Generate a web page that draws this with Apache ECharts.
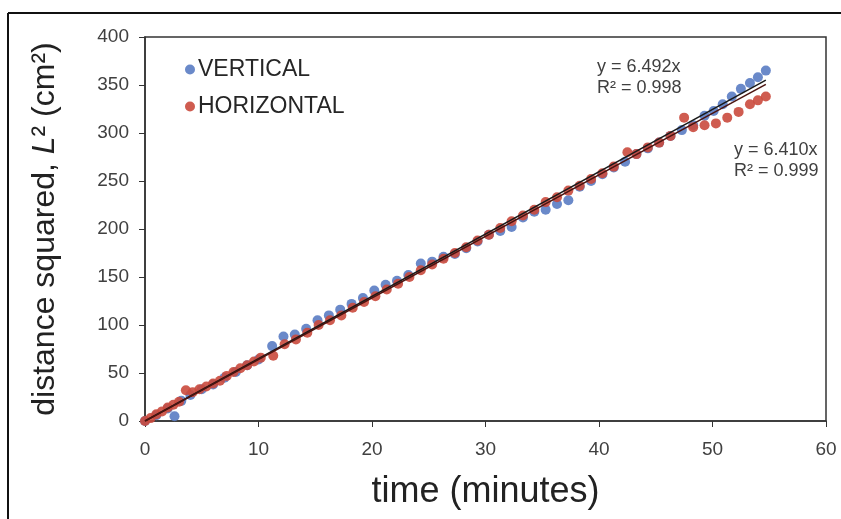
<!DOCTYPE html>
<html>
<head>
<meta charset="utf-8">
<script src="https://cdn.jsdelivr.net/npm/echarts@6/dist/echarts.min.js"></script>
<style>
html,body{margin:0;padding:0;background:#fff;}
#c{width:841px;height:519px;}
</style>
</head>
<body>
<div id="c"></div>
<script>
// ---- data ----
const verticalTime = [0,1,2,2.6,3.2,4,5,6,7,8,9,10,11.2,12.2,13.2,14.2,15.2,16.2,17.2,18.2,19.2,20.2,21.2,22.2,23.2,24.3,25.3,26.3,27.3,28.3,29.3,30.3,31.3,32.3,33.3,34.3,35.3,36.3,37.3,38.3,39.3,40.3,41.3,42.3,43.3,44.3,45.3,46.3,47.3,48.3,49.3,50.1,50.9,51.7,52.5,53.3,54.0,54.7];
const verticalL2   = [0,6,13,5,21,27,33,38,45,51,58,64,78,88,90,96,105,110,116,122,128,136,142,146,152,164,166,171,174,180,187,194,198,202,212,218,220,226,230,244,250,257,264,270,278,284,290,297,303,308,318,323,330,338,346,352,358,365];
const horizontalTime = [0,0.5,1,1.5,2,2.5,3,3.6,4.2,4.8,5.4,6,6.6,7.2,7.8,8.4,9,9.6,10.2,11.3,12.3,13.3,14.3,15.3,16.3,17.3,18.3,19.3,20.3,21.3,22.3,23.3,24.3,25.3,26.3,27.3,28.3,29.3,30.3,31.3,32.3,33.3,34.3,35.3,36.3,37.3,38.3,39.3,40.3,41.3,42.5,43.3,44.3,45.3,46.3,47.5,48.3,49.3,50.3,51.3,52.3,53.3,54.0,54.7];
const horizontalL2   = [0,3,7,10,14,17,20,32,30,33,36,39,42,47,51,55,58,62,66,68,80,85,92,100,105,110,118,124,130,137,143,150,157,163,169,175,181,188,194,201,208,214,220,228,233,240,245,252,258,265,280,278,285,290,297,316,306,308,310,316,322,330,334,338];
const seriesNames = ['VERTICAL','HORIZONTAL'];
const fitSlopes = [6.492, 6.410];
const fitLabels = [['y = 6.492x','R² = 0.998'],['y = 6.410x','R² = 0.999']];
const xTicks = [0,10,20,30,40,50,60];
const yTicks = [0,50,100,150,200,250,300,350,400];
const fitEnd = 54.7;

const blue = '#5a7cc3';
const red = '#ca4a3d';

const chart = echarts.init(document.getElementById('c'), null, {renderer:'canvas'});
const zip = (a,b)=>a.map((v,i)=>[v,b[i]]);
const fitLine = s => [[0,0],[fitEnd, s*fitEnd]];
const font = "'Liberation Sans', Arial, sans-serif";

chart.setOption({
  animation:false,
  backgroundColor:'#ffffff',
  grid:{left:145, right:15, top:37, bottom:98, show:true, borderColor:'#333', borderWidth:1.5},
  legend:{
    data:seriesNames.map(n=>({name:n, icon:'circle'})),
    orient:'vertical', left:180, top:53, itemWidth:10, itemHeight:10, itemGap:14,
    textStyle:{fontSize:23, color:'#262626', fontFamily:font, padding:[0,0,0,-2]}
  },
  xAxis:{
    type:'value', min:xTicks[0], max:xTicks[xTicks.length-1], interval:10,
    name:'time (minutes)', nameLocation:'middle', nameGap:53,
    nameTextStyle:{fontSize:36, color:'#222', fontFamily:font},
    axisLine:{lineStyle:{color:'#333', width:1.5}},
    axisTick:{inside:false, length:6, lineStyle:{color:'#333'}},
    axisLabel:{fontSize:19, color:'#404040', fontFamily:font, margin:19},
    splitLine:{show:false}
  },
  yAxis:{
    type:'value', min:yTicks[0], max:yTicks[yTicks.length-1], interval:50,
    name:'{a|distance squared, }{i|L}{a|² (cm²)}', nameLocation:'middle', nameGap:84, nameRotate:90,
    nameTextStyle:{
      rich:{
        a:{fontSize:32, color:'#222', fontFamily:font},
        i:{fontSize:32, color:'#222', fontFamily:font, fontStyle:'italic'}
      }
    },
    axisLine:{lineStyle:{color:'#333', width:1.5}},
    axisTick:{inside:false, length:6, lineStyle:{color:'#333'}},
    axisLabel:{fontSize:19, color:'#404040', fontFamily:font, margin:16},
    splitLine:{show:false}
  },
  series:[
    {name:seriesNames[0], type:'scatter', symbolSize:10, itemStyle:{color:blue, opacity:0.9}, data:zip(verticalTime, verticalL2), z:2},
    {name:seriesNames[1], type:'scatter', symbolSize:10, itemStyle:{color:red, opacity:0.9}, data:zip(horizontalTime, horizontalL2), z:3},
    {type:'line', data:fitLine(fitSlopes[0]), showSymbol:false, lineStyle:{color:'#1a1a1a', width:1.5}, z:4, silent:true},
    {type:'line', data:fitLine(fitSlopes[1]), showSymbol:false, lineStyle:{color:'#4a1410', width:1.5}, z:4, silent:true}
  ],
  graphic:[
    {type:'line', shape:{x1:8, y1:13, x2:841, y2:13}, style:{stroke:'#111', lineWidth:2}},
    {type:'line', shape:{x1:8, y1:13, x2:8, y2:519}, style:{stroke:'#111', lineWidth:2}},
    {type:'text', left:597, top:57, style:{text:fitLabels[0].join('\n'), fontSize:18, lineHeight:21, fill:'#404040', fontFamily:font, textAlign:'left'}},
    {type:'text', left:734, top:140, style:{text:fitLabels[1].join('\n'), fontSize:18, lineHeight:21, fill:'#404040', fontFamily:font, textAlign:'left'}}
  ]
});
</script>
</body>
</html>
